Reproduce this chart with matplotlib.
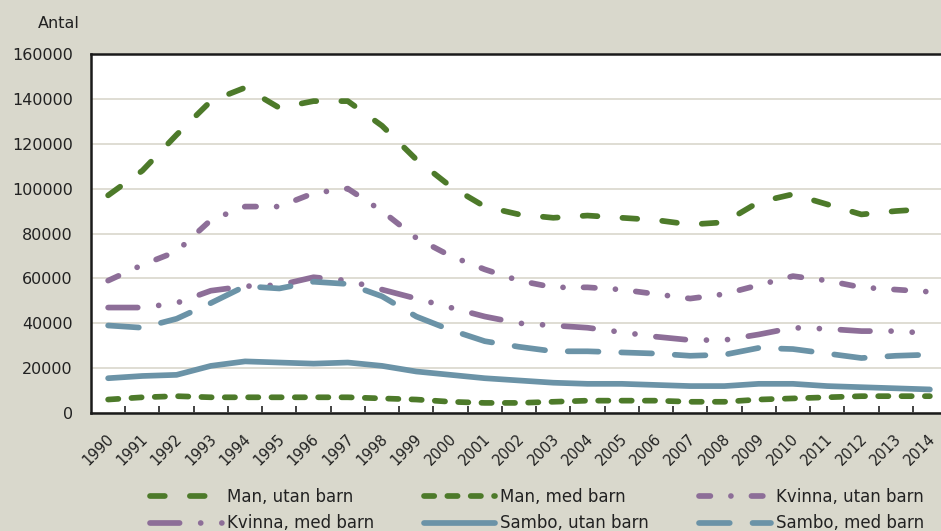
import matplotlib
matplotlib.use("Agg")
import matplotlib.pyplot as plt
import matplotlib.transforms as mtransforms

# --- data ---
years = [str(y) for y in range(1990, 2015)]

man_utan = [97000, 108000, 124000, 139000, 145000, 136000, 139000, 139000, 128000, 113000,
            101000, 92000, 88500, 87000, 88000, 87000, 86000, 84000, 85000, 94000,
            97500, 93000, 88500, 90000, 91000]
man_med = [6000, 7000, 7500, 7000, 7000, 7000, 7000, 7000, 6500, 6000,
           5000, 4500, 4500, 5000, 5500, 5500, 5500, 5000, 5000, 6000,
           6500, 7000, 7500, 7500, 7500]
kvinna_utan = [59000, 66000, 72000, 86000, 92000, 92000, 98000, 100000, 90000, 78000,
               70000, 64000, 59000, 56000, 56000, 55000, 53000, 51000, 53000, 57000,
               61000, 59000, 56000, 55000, 54000]
kvinna_med = [47000, 47000, 49000, 54500, 56500, 57000, 60500, 59000, 55000, 51000,
              47000, 43000, 40000, 39000, 38000, 36000, 34000, 32500, 32500, 35000,
              38000, 37500, 36500, 36500, 35500]
sambo_utan = [15500, 16500, 17000, 21000, 23000, 22500, 22000, 22500, 21000, 18500,
              17000, 15500, 14500, 13500, 13000, 13000, 12500, 12000, 12000, 13000,
              13000, 12000, 11500, 11000, 10500]
sambo_med = [39000, 38000, 42000, 49000, 56500, 55500, 58500, 57500, 52000, 43000,
             37000, 32000, 29500, 27500, 27500, 27000, 26500, 25500, 26000, 29000,
             28500, 26500, 24500, 25500, 26000]

green = "#4d7a2a"
purple = "#8d6e98"
blue = "#6b93a7"
bg = "#d9d8cc"

series = [
    ("Man, utan barn", man_utan, green, (0, (2.6, 4.4))),
    ("Man, med barn", man_med, green, (0, (1.8, 2.3))),
    ("Kvinna, utan barn", kvinna_utan, purple, (0, (2.0, 3.6, 0.01, 3.6))),
    ("Kvinna, med barn", kvinna_med, purple, (0, (5.2, 3.7, 0.01, 3.7, 0.01, 3.7))),
    ("Sambo, utan barn", sambo_utan, blue, "-"),
    ("Sambo, med barn", sambo_med, blue, (0, (5.4, 4.0))),
]

fig = plt.figure(figsize=(9.41, 5.31), dpi=100, facecolor=bg)
ax = fig.add_axes([91 / 941, 118 / 531, 856 / 941, 359 / 531])
ax.set_facecolor("white")

x = list(range(len(years)))
handles = {}
for name, vals, col, ls in series:
    ln, = ax.plot(x, vals, color=col, lw=4.1, linestyle=ls,
                  dash_capstyle="round", solid_capstyle="round", label=name)
    handles[name] = ln

ax.set_xlim(-0.5, len(years) - 0.5)
ax.set_ylim(0, 160000)
ax.set_yticks(range(0, 160001, 20000))
ax.set_yticklabels([str(v) for v in range(0, 160001, 20000)], fontsize=11.5, color="#222222")
ax.tick_params(axis="y", length=0, pad=13)
ax.yaxis.grid(True, color="#d9d7cc", lw=1.2)
ax.set_axisbelow(True)

ax.set_xticks(x)
ax.set_xticklabels(years, fontsize=10.5, rotation=45, ha="right", va="top",
                   rotation_mode="anchor", color="#222222")
ax.tick_params(axis="x", length=0, pad=13)
offset = mtransforms.ScaledTranslation(-2 / 100, 0, fig.dpi_scale_trans)
for lab in ax.get_xticklabels():
    lab.set_transform(lab.get_transform() + offset)
ax.set_xticks([i + 0.5 for i in range(len(years) - 1)], minor=True)
ax.tick_params(axis="x", which="minor", direction="in", length=5, width=1.2, color="#222222")

for s in ["left", "bottom", "top"]:
    ax.spines[s].set_color("#1a1a1a")
    ax.spines[s].set_linewidth(1.8)
ax.spines["right"].set_visible(False)

fig.text(38 / 941, 1 - 23 / 531, "Antal", fontsize=11.5, ha="left", va="center", color="#222222")

order = ["Man, utan barn", "Kvinna, med barn", "Man, med barn",
         "Sambo, utan barn", "Kvinna, utan barn", "Sambo, med barn"]
leg = fig.legend([handles[n] for n in order], order, ncol=3, loc="upper left",
                 bbox_to_anchor=(150 / 941, 1 - 488 / 531), frameon=False,
                 borderpad=0, borderaxespad=0, handlelength=4.3, handletextpad=0.3,
                 columnspacing=3.0, labelspacing=0.5,
                 prop={"size": 12})
for t in leg.get_texts():
    t.set_color("#222222")

fig.savefig("out.png", dpi=100, facecolor=bg)
